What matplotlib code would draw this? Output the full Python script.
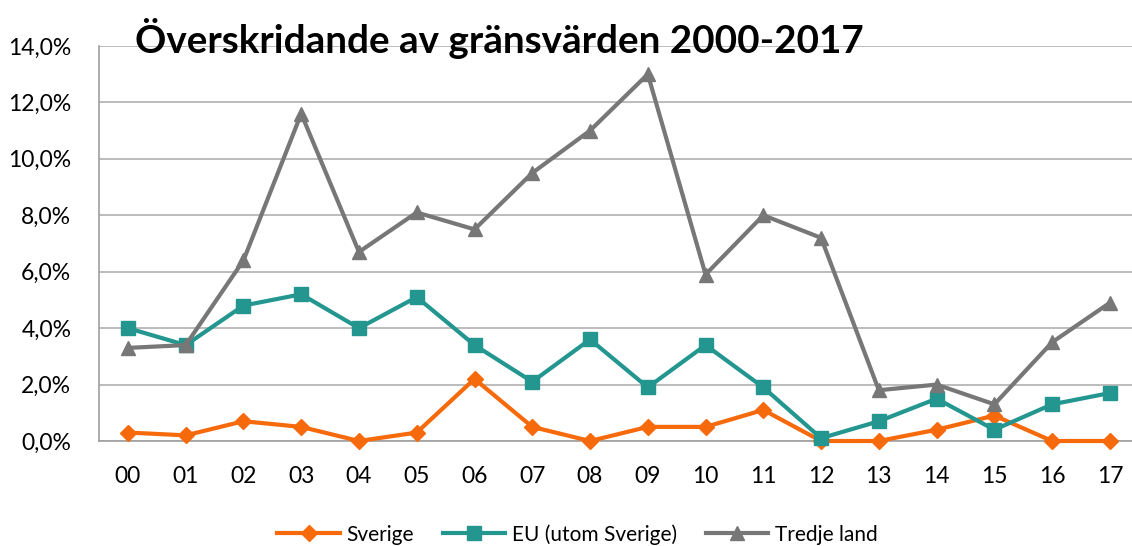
import numpy as np
import matplotlib.pyplot as plt
from matplotlib.ticker import FuncFormatter

years = ['00', '01', '02', '03', '04', '05', '06', '07', '08', '09',
         '10', '11', '12', '13', '14', '15', '16', '17']
sverige = [0.3, 0.2, 0.7, 0.5, 0.0, 0.3, 2.2, 0.5, 0.0, 0.5,
           0.5, 1.1, 0.0, 0.0, 0.4, 0.9, 0.0, 0.0]
eu = [4.0, 3.4, 4.8, 5.2, 4.0, 5.1, 3.4, 2.1, 3.6, 1.9,
      3.4, 1.9, 0.1, 0.7, 1.5, 0.4, 1.3, 1.7]
tredje = [3.3, 3.4, 6.4, 11.6, 6.7, 8.1, 7.5, 9.5, 11.0, 13.0,
          5.9, 8.0, 7.2, 1.8, 2.0, 1.3, 3.5, 4.9]

plt.rcParams['font.family'] = ['Lato', 'DejaVu Sans']

fig = plt.figure(figsize=(11.32, 5.46), dpi=100)
ax = fig.add_axes([0.0875, 0.1923, 0.9185, 0.7235])

x = np.arange(len(years))
ax.plot(x, sverige, color='#F76A0C', lw=3, marker='D', ms=8, label='Sverige', clip_on=False, zorder=3)
ax.plot(x, eu, color='#23968F', lw=3, marker='s', ms=10, label='EU (utom Sverige)', clip_on=False, zorder=3)
ax.plot(x, tredje, color='#777777', lw=3, marker='^', ms=10, label='Tredje land', clip_on=False, zorder=3)

ax.set_xlim(-0.5, len(years) - 0.5)
ax.set_ylim(0, 14)
ax.set_yticks(np.arange(0, 14.1, 2))
ax.yaxis.set_major_formatter(FuncFormatter(lambda v, p: f'{v:.1f}%'.replace('.', ',')))
ax.set_xticks(x)
ax.set_xticklabels(years)
ax.grid(axis='y', color='#B0B0B0', lw=1.2)
ax.set_axisbelow(True)
for s in ['top', 'right']:
    ax.spines[s].set_visible(False)
ax.spines['left'].set_color('#A0A0A0')
ax.spines['bottom'].set_color('#A0A0A0')
ax.spines['left'].set_linewidth(1.2)
ax.spines['bottom'].set_linewidth(1.2)
ax.tick_params(axis='both', length=0, labelsize=16.5)
ax.tick_params(axis='x', pad=18)
ax.tick_params(axis='y', pad=20)

fig.text(0.119, 0.93, 'Överskridande av gränsvärden 2000-2017', fontsize=27.8,
         fontweight='bold', va='center', ha='left')

ax.legend(loc='lower center', bbox_to_anchor=(0.46, -0.31), ncol=3, frameon=False,
          fontsize=15, handlelength=3, columnspacing=1.4, handletextpad=0.3)

fig.savefig('out.png', dpi=100)
